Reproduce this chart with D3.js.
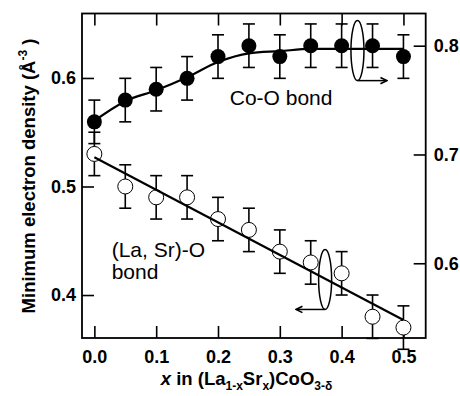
<!DOCTYPE html>
<html>
<head>
<meta charset="utf-8">
<script src="https://cdn.jsdelivr.net/npm/d3@7"></script>
<style>
  body { margin: 0; background: #fff; }
  text { font-family: "Liberation Sans", Arial, sans-serif; }
</style>
</head>
<body>
<div id="chart"></div>
<script>
// composition x
var xs = [0, 0.05, 0.1, 0.15, 0.2, 0.25, 0.3, 0.35, 0.4, 0.45, 0.5];
// Co-O bond (right axis), filled circles
var coO = [0.73, 0.75, 0.76, 0.77, 0.79, 0.80, 0.79, 0.80, 0.80, 0.80, 0.79];
var coOFit = [0.731, 0.749, 0.759, 0.771, 0.785, 0.793, 0.795, 0.797, 0.797, 0.797, 0.797];
// (La, Sr)-O bond (left axis), open circles
var laO = [0.53, 0.50, 0.49, 0.49, 0.47, 0.46, 0.44, 0.43, 0.42, 0.38, 0.37];
var laOFitX = [0, 0.5];
var laOFit = [0.527, 0.377];
var err = 0.02;

var xTicks = [0, 0.1, 0.2, 0.3, 0.4, 0.5];
var yLeftTicks = [0.4, 0.5, 0.6];
var yRightTicks = [0.6, 0.7, 0.8];

var W = 460, H = 396;
var pL = 82, pR = 425.7, pT = 13.5, pB = 338;

var svg = d3.select("#chart").append("svg")
    .attr("width", W)
    .attr("height", H);

var x = d3.scaleLinear().domain([-0.02, 0.536]).range([pL, pR]);
var yL = d3.scaleLinear().domain([0.3604, 0.6594]).range([pB, pT]);
var yR = d3.scaleLinear().domain([0.5313, 0.8296]).range([pB, pT]);

// axes, ticks pointing inward
var tickLen = 12;
svg.append("g")
    .attr("transform", "translate(0," + pB + ")")
    .call(d3.axisBottom(x).tickValues(xTicks).tickSize(-tickLen).tickFormat(d3.format(".1f")))
    .call(styleAxis)
    .selectAll("text").attr("y", 25).attr("dy", 0);
svg.append("g")
    .attr("transform", "translate(0," + pT + ")")
    .call(d3.axisTop(x).tickValues(xTicks).tickSize(-tickLen).tickFormat(""))
    .call(styleAxis);
svg.append("g")
    .attr("transform", "translate(" + pL + ",0)")
    .call(d3.axisLeft(yL).tickValues(yLeftTicks).tickSize(-tickLen).tickFormat(d3.format(".1f")))
    .call(styleAxis)
    .selectAll("text").attr("x", -6);
svg.append("g")
    .attr("transform", "translate(" + pR + ",0)")
    .call(d3.axisRight(yR).tickValues(yRightTicks).tickSize(-tickLen).tickFormat(d3.format(".1f")))
    .call(styleAxis)
    .selectAll("text").attr("x", 8);

function styleAxis(g) {
  g.select(".domain").remove();
  g.selectAll("line").attr("stroke", "#000").attr("stroke-width", 1.6);
  g.selectAll("text")
      .attr("fill", "#000")
      .style("font-size", "18px")
      .style("font-weight", "bold")
      .style("font-family", "'Liberation Sans', Arial, sans-serif");
}

// frame
svg.append("rect")
    .attr("x", pL).attr("y", pT)
    .attr("width", pR - pL).attr("height", pB - pT)
    .attr("fill", "none").attr("stroke", "#000").attr("stroke-width", 1.8);

var plot = svg.append("g");

function errorBars(vals, y) {
  var g = plot.append("g").attr("stroke", "#000").attr("stroke-width", 1.6);
  vals.forEach(function(v, i) {
    var cx = x(xs[i]);
    g.append("line").attr("x1", cx).attr("x2", cx).attr("y1", y(v - err)).attr("y2", y(v + err));
    g.append("line").attr("x1", cx - 6).attr("x2", cx + 6).attr("y1", y(v - err)).attr("y2", y(v - err));
    g.append("line").attr("x1", cx - 6).attr("x2", cx + 6).attr("y1", y(v + err)).attr("y2", y(v + err));
  });
}

errorBars(laO, yL);
errorBars(coO, yR);

// open circles
plot.selectAll(".open").data(laO).enter().append("circle")
    .attr("cx", function(d, i) { return x(xs[i]); })
    .attr("cy", function(d) { return yL(d); })
    .attr("r", 7.5)
    .attr("fill", "#fff").attr("stroke", "#000").attr("stroke-width", 1);

// fit lines
plot.append("path")
    .datum(laOFit)
    .attr("d", d3.line().x(function(d, i) { return x(laOFitX[i]); }).y(function(d) { return yL(d); }))
    .attr("fill", "none").attr("stroke", "#000").attr("stroke-width", 2.2);

plot.append("path")
    .datum(coOFit)
    .attr("d", d3.line().curve(d3.curveMonotoneX)
        .x(function(d, i) { return x(xs[i]); }).y(function(d) { return yR(d); }))
    .attr("fill", "none").attr("stroke", "#000").attr("stroke-width", 2.2);

// filled circles
plot.selectAll(".filled").data(coO).enter().append("circle")
    .attr("cx", function(d, i) { return x(xs[i]); })
    .attr("cy", function(d) { return yR(d); })
    .attr("r", 7.5)
    .attr("fill", "#000");

// ellipses and arrows marking which axis belongs to which series
var defs = svg.append("defs");
defs.append("marker")
    .attr("id", "head")
    .attr("viewBox", "0 0 10 10")
    .attr("refX", 9).attr("refY", 5)
    .attr("markerWidth", 9).attr("markerHeight", 9)
    .attr("markerUnits", "userSpaceOnUse")
    .attr("orient", "auto")
  .append("path")
    .attr("d", "M2,1.5 L9,5 L2,8.5")
    .attr("fill", "none").attr("stroke", "#000").attr("stroke-width", 1.8);

function axisTag(cx, cy, ry, toX, y) {
  var px = x(cx), py = y(cy);
  var h = Math.abs(y(cy + ry) - py);
  plot.append("ellipse")
      .attr("cx", px).attr("cy", py)
      .attr("rx", 6.5).attr("ry", h)
      .attr("fill", "none").attr("stroke", "#000").attr("stroke-width", 1.5);
  plot.append("line")
      .attr("x1", px).attr("y1", py + h)
      .attr("x2", x(toX)).attr("y2", py + h)
      .attr("stroke", "#000").attr("stroke-width", 1.5)
      .attr("marker-end", "url(#head)");
}
axisTag(0.4256, 0.7955, 0.0276, 0.473, yR);
axisTag(0.3733, 0.4143, 0.0276, 0.3264, yL);

// labels inside plot
plot.append("text")
    .attr("x", x(0.219)).attr("y", 105)
    .style("font-size", "21px")
    .text("Co-O bond");
var lab = plot.append("text")
    .attr("x", x(0.028)).attr("y", 256.7)
    .style("font-size", "21px");
lab.append("tspan").text("(La, Sr)-O");
lab.append("tspan").attr("x", x(0.028)).attr("dy", 22.6).text("bond");

// axis titles
var yt = svg.append("text")
    .attr("transform", "translate(35,176) rotate(-90)")
    .attr("text-anchor", "middle")
    .style("font-size", "18.5px")
    .style("font-weight", "bold");
yt.append("tspan").text("Minimum electron density (Å");
yt.append("tspan").attr("dy", -8).style("font-size", "12px").text("-3");
yt.append("tspan").attr("dy", 8).text(" )");

var xt = svg.append("text")
    .attr("x", 246.5).attr("y", 385)
    .attr("text-anchor", "middle")
    .style("font-size", "18.5px")
    .style("font-weight", "bold");
xt.append("tspan").style("font-style", "italic").text("x");
xt.append("tspan").text(" in (La");
xt.append("tspan").attr("dy", 5).style("font-size", "12px").text("1-x");
xt.append("tspan").attr("dy", -5).text("Sr");
xt.append("tspan").attr("dy", 5).style("font-size", "12px").text("x");
xt.append("tspan").attr("dy", -5).text(")CoO");
xt.append("tspan").attr("dy", 5).style("font-size", "12px").text("3-δ");
</script>
</body>
</html>
